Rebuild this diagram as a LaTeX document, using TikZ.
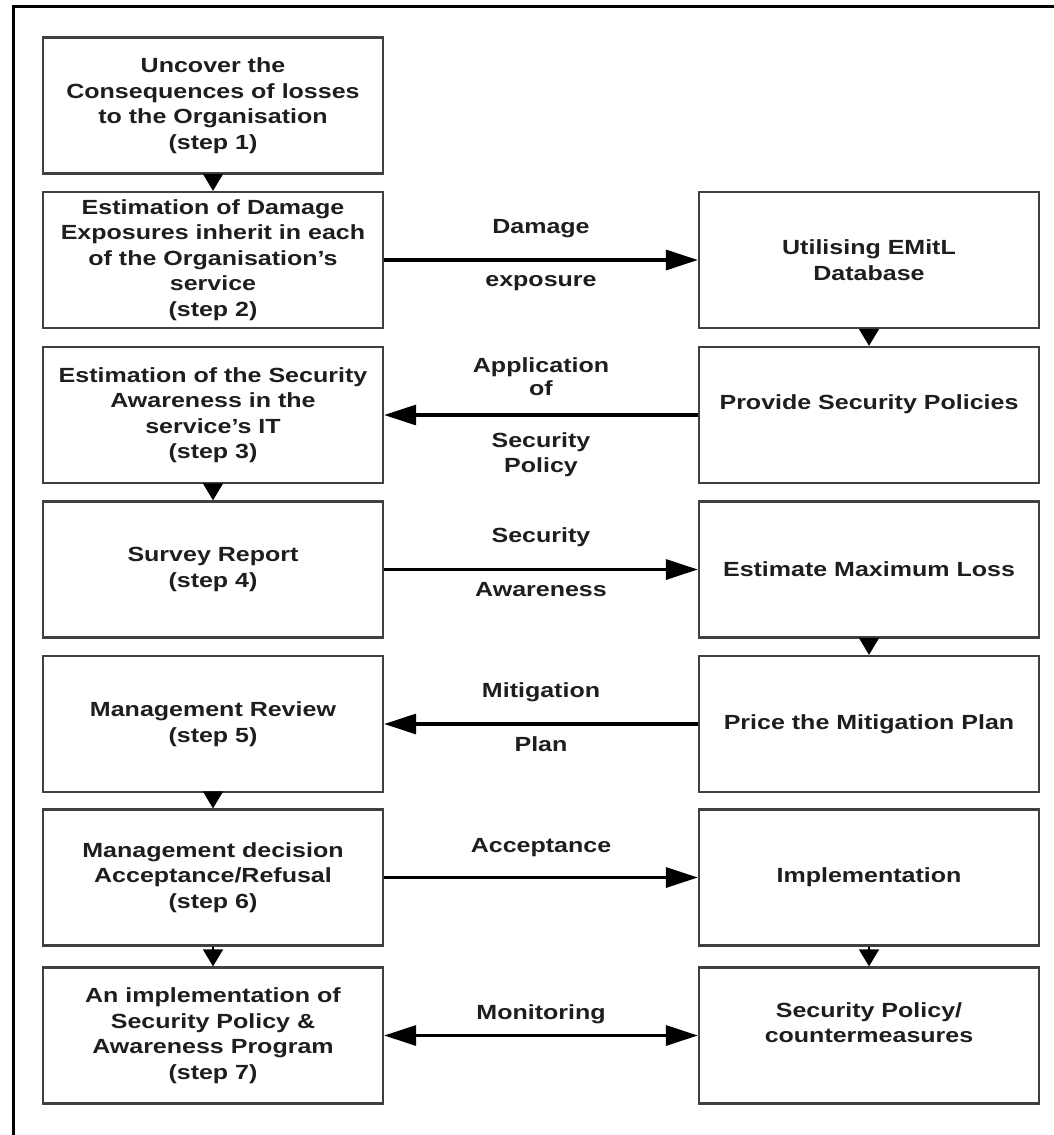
\documentclass[tikz,border=0pt]{standalone}
\usepackage{fontspec}
\newfontfamily\diagfont{Liberation Sans}[FakeStretch=1.22]
\usetikzlibrary{arrows.meta}
\definecolor{boxline}{HTML}{404040}
\definecolor{ink}{HTML}{1E1E1E}

\tikzset{
  txt/.style={text=ink, font=\diagfont\bfseries\fontsize{20.5}{25.5}\selectfont},
  stepbox/.style={txt, draw=boxline, line width=2.3pt, minimum width=340pt,
    minimum height=136pt, inner sep=0pt, align=center},
  flow/.style={line width=3.2pt, draw=black, -{Triangle[length=32pt,width=20pt]}},
  twoway/.style={line width=3.2pt, draw=black,
    {Triangle[length=32pt,width=20pt]}-{Triangle[length=32pt,width=20pt]}},
  drop/.style={line width=1.5pt, draw=black, -{Triangle[length=17pt,width=20pt]}},
  lbl/.style={txt, inner sep=0pt, anchor=base},
}

\begin{document}
\begin{tikzpicture}[x=1pt,y=-1pt]
  \useasboundingbox (0,0) rectangle (1054,1135);
  % outer frame (top and left edges)
  \draw[line width=3pt] (13,1135) -- (13,6.5) -- (1054,6.5);

  % left column: the seven steps
  \node[stepbox] (s1) at (213,105.5) {Uncover the\\Consequences of losses\\to the Organisation\\(step 1)};
  \node[stepbox] (s2) at (213,260) {Estimation of Damage\\Exposures inherit in each\\of the Organisation’s\\service\\(step 2)};
  \node[stepbox] (s3) at (213,415) {Estimation of the Security\\Awareness in the\\service’s IT\\(step 3)};
  \node[stepbox] (s4) at (213,569.5) {Survey Report\\(step 4)};
  \node[stepbox] (s5) at (213,724) {Management Review\\(step 5)};
  \node[stepbox] (s6) at (213,877.5) {Management decision\\Acceptance/Refusal\\(step 6)};
  \node[stepbox] (s7) at (213,1035.5) {An implementation of\\Security Policy \&\\Awareness Program\\(step 7)};

  % right column
  \node[stepbox] (db)   at (869,260) {Utilising EMitL\\Database};
  \node[stepbox] (pol)  at (869,415) {Provide Security Policies\\\mbox{}};
  \node[stepbox] (loss) at (869,569.5) {Estimate Maximum Loss};
  \node[stepbox] (price) at (869,724) {Price the Mitigation Plan};
  \node[stepbox] (impl) at (869,877.5) {Implementation};
  \node[stepbox] (cm)   at (869,1035.5) {Security Policy/\\countermeasures\\\mbox{}};

  % vertical hand-offs
  \draw[drop] (s1.south) -- (s2.north);
  \draw[drop] (s3.south) -- (s4.north);
  \draw[drop] (s5.south) -- (s6.north);
  \draw[drop] (s6.south) -- (s7.north);
  \draw[drop] (db.south) -- (pol.north);
  \draw[drop] (loss.south) -- (price.north);
  \draw[drop] (impl.south) -- (cm.north);

  % horizontal exchanges
  \draw[flow] (s2.east) -- node[lbl, yshift=27pt] {Damage}
                           node[lbl, yshift=-26pt] {exposure} (db.west);
  \draw[flow] (pol.west) -- node[lbl, yshift=43pt] {Application}
                            node[lbl, yshift=20pt] {of}
                            node[lbl, yshift=-32pt] {Security}
                            node[lbl, yshift=-57pt] {Policy} (s3.east);
  \draw[flow] (s4.east) -- node[lbl, yshift=27pt] {Security}
                           node[lbl, yshift=-27pt] {Awareness} (loss.west);
  \draw[flow] (price.west) -- node[lbl, yshift=27pt] {Mitigation}
                              node[lbl, yshift=-27pt] {Plan} (s5.east);
  \draw[flow] (s6.east) -- node[lbl, yshift=25pt] {Acceptance} (impl.west);
  \draw[twoway] (s7.east) -- node[lbl, yshift=16pt] {Monitoring} (cm.west);
\end{tikzpicture}
\end{document}
